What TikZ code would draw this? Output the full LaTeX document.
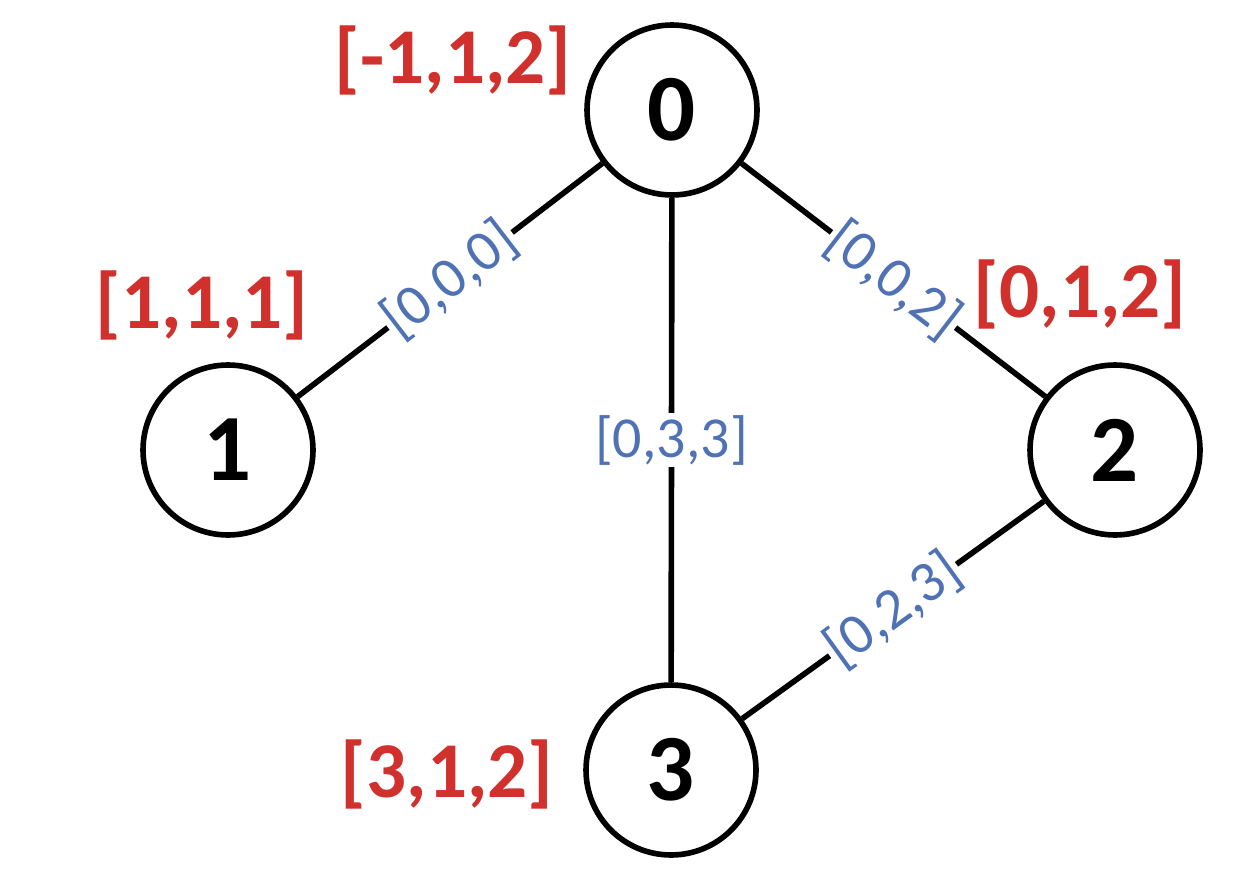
\documentclass[tikz,border=0pt]{standalone}
\usepackage{fontspec}
\setmainfont{Carlito}
\usetikzlibrary{positioning}
\definecolor{tagred}{HTML}{D0312D}
\definecolor{edgeblue}{HTML}{4F72B5}

\begin{document}
\begin{tikzpicture}[x=0.02cm,y=-0.02cm,
 v/.style={draw,circle,line width=3.2pt,minimum size=3.4cm,inner sep=0pt,
 font=\fontsize{54}{60}\selectfont\bfseries},
 tag/.style={text=tagred,inner sep=0pt,font=\fontsize{45}{50}\selectfont\bfseries},
 w/.style={text=edgeblue,fill=white,inner sep=1pt,
 font=\fontsize{33}{36}\selectfont},
 e/.style={line width=3.2pt}]
\useasboundingbox (0,0) rectangle (1236,868);
\node[v] (n0) at (672,110) {0};
\node[v] (n1) at (228,450) {1};
\node[v] (n2) at (1115,450) {2};
\node[v] (n3) at (671,770) {3};
\node[tag] (t0) at (453,60) {[-1,1,2]};
\node[tag] (t1) at (202,305) {[1,1,1]};
\node[tag] (t2) at (1080,294) {[0,1,2]};
\node[tag] (t3) at (447,774) {[3,1,2]};
\draw[e] (n0)--node[w,sloped] {[0,0,0]} (n1);
\draw[e] (n0)--node[w,sloped] {[0,0,2]} (n2);
\draw[e] (n0)--node[w] {[0,3,3]} (n3);
\draw[e] (n2)--node[w,sloped] {[0,2,3]} (n3);
\end{tikzpicture}
\end{document}
